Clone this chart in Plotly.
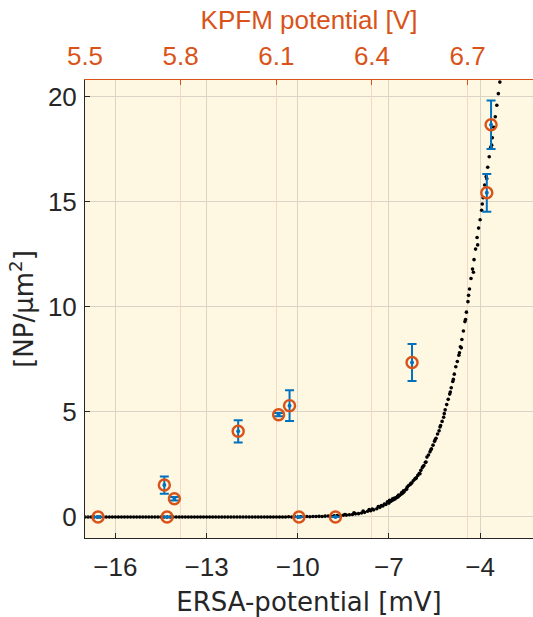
import plotly.graph_objects as go

# ---- data ----
# measured points: ERSA potential [mV], density [NP/um^2], error
ersa_meas = [-16.57, -14.39, -14.30, -14.06, -11.96, -10.63, -10.27, -9.96, -8.76, -6.24, -3.78, -3.64]
np_meas = [0.0, 1.52, 0.0, 0.87, 4.08, 4.87, 5.30, 0.0, 0.0, 7.35, 15.43, 18.67]
np_err = [0.0, 0.41, 0.0, 0.08, 0.53, 0.08, 0.73, 0.0, 0.0, 0.88, 0.90, 1.16]

# simulated curve (black dots)
curve_x = [
    -17.0, -16.9, -16.8, -16.7, -16.6, -16.5, -16.4, -16.3, -16.2, -16.1,
    -16.0, -15.9, -15.8, -15.7, -15.6, -15.5, -15.4, -15.3, -15.2, -15.1,
    -15.0, -14.9, -14.8, -14.7, -14.6, -14.5, -14.4, -14.3, -14.2, -14.1,
    -14.0, -13.9, -13.8, -13.7, -13.6, -13.5, -13.4, -13.3, -13.2, -13.1,
    -13.0, -12.9, -12.8, -12.7, -12.6, -12.5, -12.4, -12.3, -12.2, -12.1,
    -12.0, -11.9, -11.8, -11.7, -11.6, -11.5, -11.4, -11.3, -11.2, -11.1,
    -11.0, -10.9, -10.8, -10.7, -10.6, -10.5, -10.4, -10.3, -10.2, -10.1,
    -10.0, -9.9, -9.8, -9.7, -9.6, -9.5, -9.4, -9.3, -9.2, -9.1,
    -9.0, -8.9, -8.8, -8.7, -8.6, -8.5, -8.4, -8.3, -8.2, -8.1,
    -8.0, -7.9, -7.8, -7.7, -7.6, -7.5, -7.4, -7.3, -7.2, -7.1,
    -7.0, -6.95, -6.9, -6.85, -6.8, -6.75, -6.7, -6.65, -6.6, -6.55,
    -6.5, -6.45, -6.4, -6.35, -6.3, -6.25, -6.2, -6.15, -6.1, -6.05,
    -6.0, -5.95, -5.9, -5.85, -5.8, -5.75, -5.7, -5.65, -5.6, -5.55,
    -5.5, -5.45, -5.4, -5.35, -5.3, -5.25, -5.2, -5.15, -5.1, -5.05,
    -5.0, -4.95, -4.9, -4.85, -4.8, -4.75, -4.7, -4.65, -4.6, -4.55,
    -4.5, -4.45, -4.4, -4.35, -4.3, -4.25, -4.2, -4.15, -4.1, -4.05,
    -4.0, -3.95, -3.9, -3.85, -3.8, -3.75, -3.7, -3.65, -3.6, -3.55,
    -3.5, -3.45, -3.4, -3.35, -3.32,
    # extra scattered dots around the bend
    -7.55, -7.25, -7.05, -6.88, -6.72, -6.58, -6.42, -6.28, -6.12, -5.98,
    -5.88, -5.78, -5.62, -5.48, -5.32, -5.18, -4.98, -4.88, -4.68, -4.48,
    -8.45, -8.15, -7.85, -7.65, -7.35, -7.15, -6.98, -6.82, -6.68, -6.52,
    -4.62, -4.38, -4.22, -4.08, -3.93, -3.78, -3.62,
]
curve_y = [
    0.00, 0.00, 0.00, 0.00, 0.00, 0.00, 0.00, 0.00, 0.00, 0.00,
    0.00, 0.00, 0.00, 0.00, 0.00, 0.00, 0.00, 0.00, 0.00, 0.00,
    0.00, 0.00, 0.00, 0.00, 0.00, 0.00, 0.00, 0.00, 0.00, 0.00,
    0.00, 0.00, 0.00, 0.00, 0.00, 0.00, 0.00, 0.00, 0.00, 0.00,
    0.00, 0.00, 0.00, 0.00, 0.00, 0.00, 0.00, 0.00, 0.00, 0.00,
    0.00, 0.00, 0.00, 0.00, 0.00, 0.00, 0.00, 0.00, 0.00, 0.00,
    0.00, 0.00, 0.00, 0.00, 0.00, 0.00, 0.00, 0.01, 0.00, 0.01,
    0.00, 0.01, 0.01, 0.02, 0.01, 0.02, 0.02, 0.03, 0.02, 0.04,
    0.05, 0.04, 0.06, 0.07, 0.06, 0.08, 0.09, 0.11, 0.12, 0.15,
    0.16, 0.19, 0.22, 0.27, 0.30, 0.34, 0.39, 0.46, 0.52, 0.60,
    0.66, 0.74, 0.78, 0.82, 0.86, 0.92, 0.95, 1.02, 1.08, 1.13,
    1.20, 1.30, 1.42, 1.50, 1.55, 1.62, 1.72, 1.80, 1.86, 1.98,
    2.08, 2.22, 2.35, 2.45, 2.60, 2.85, 2.95, 3.10, 3.25, 3.42,
    3.60, 3.75, 3.95, 4.10, 4.35, 4.55, 4.75, 5.10, 5.35, 5.60,
    5.85, 6.15, 6.45, 6.80, 7.15, 7.40, 7.70, 8.10, 8.45, 8.85,
    9.30, 9.75, 10.25, 10.85, 11.35, 11.80, 12.25, 12.75, 13.30, 13.75,
    14.15, 14.60, 15.20, 15.80, 16.20, 16.65, 17.15, 17.60, 18.05, 18.55,
    19.05, 19.60, 20.15, 20.70, 21.00,
    0.38, 0.55, 0.72, 0.86, 0.98, 1.16, 1.32, 1.60, 1.84, 2.06,
    2.40, 2.62, 3.20, 3.68, 4.28, 4.92, 5.95, 6.55, 7.82, 9.40,
    0.12, 0.20, 0.28, 0.36, 0.50, 0.62, 0.80, 0.90, 1.05, 1.25,
    8.05, 10.55, 11.65, 12.95, 14.90, 16.10, 17.70,
]

# top axis (KPFM potential) ticks
kpfm_ticks = [5.5, 5.8, 6.1, 6.4, 6.7]
ersa_ticks = [-16, -13, -10, -7, -4]
np_ticks = [0, 5, 10, 15, 20]

BLUE = "#0072BD"
ORANGE = "#D95319"
DARK = "#262626"
ARIAL = "Liberation Sans, Arial, sans-serif"
TICKFONT = dict(family=ARIAL, size=26, color=DARK)
LABELFONT = dict(family="DejaVu Sans, sans-serif", size=26, color=DARK)

fig = go.Figure()

fig.add_trace(go.Scatter(
    x=curve_x, y=curve_y, mode="markers",
    marker=dict(color="black", size=3.6, line=dict(width=0)),
    hoverinfo="skip", showlegend=False, cliponaxis=True,
))

fig.add_trace(go.Scatter(
    x=ersa_meas, y=np_meas, mode="markers",
    marker=dict(color=BLUE, size=4),
    error_y=dict(type="data", array=np_err, color=BLUE, thickness=2, width=4.5),
    showlegend=False,
))

fig.add_trace(go.Scatter(
    x=ersa_meas, y=np_meas, mode="markers",
    marker=dict(symbol="circle-open", color=ORANGE, size=11, line=dict(width=2.4, color=ORANGE)),
    showlegend=False,
))

# invisible trace to activate the top axis
fig.add_trace(go.Scatter(
    x=kpfm_ticks, y=[0] * len(kpfm_ticks), xaxis="x2", mode="markers",
    marker=dict(opacity=0), hoverinfo="skip", showlegend=False,
))

fig.update_layout(
    width=533, height=617,
    margin=dict(l=85, r=0, t=80, b=79),
    paper_bgcolor="white",
    plot_bgcolor="#FEF7E1",
    xaxis=dict(
        range=[-17, -2.26], tickvals=ersa_ticks, ticks="inside", ticklen=5,
        tickcolor=DARK, showline=True, linecolor=DARK, linewidth=1,
        showgrid=True, gridcolor="#D9D4C6", gridwidth=1, zeroline=False,
        tickfont=TICKFONT, ticklabelstandoff=6,
        title=dict(text="ERSA-potential [mV]", font=LABELFONT, standoff=14),
    ),
    xaxis2=dict(
        overlaying="x", side="top", anchor="y",
        range=[5.5, 6.905], tickvals=kpfm_ticks, ticktext=[f"{v:.1f}" for v in kpfm_ticks],
        ticks="inside", ticklen=5, tickcolor=ORANGE,
        showline=True, linecolor=ORANGE, linewidth=1.2,
        showgrid=True, gridcolor="#F7D6C2", gridwidth=1, zeroline=False,
        tickfont=dict(family=ARIAL, size=26, color=ORANGE), ticklabelstandoff=4,
        title=dict(text="KPFM potential [V]", font=dict(family=ARIAL, size=26, color=ORANGE), standoff=3),
    ),
    yaxis=dict(
        range=[-1, 20.8], tickvals=np_ticks, ticks="inside", ticklen=5,
        tickcolor=DARK, showline=True, linecolor=DARK, linewidth=1,
        showgrid=True, gridcolor="#D9D4C6", gridwidth=1, zeroline=False,
        tickfont=TICKFONT, ticklabelstandoff=2,
        title=dict(text="[NP/μm<sup>2</sup>]", font=LABELFONT, standoff=6),
    ),
)

fig.write_html("out.html")
